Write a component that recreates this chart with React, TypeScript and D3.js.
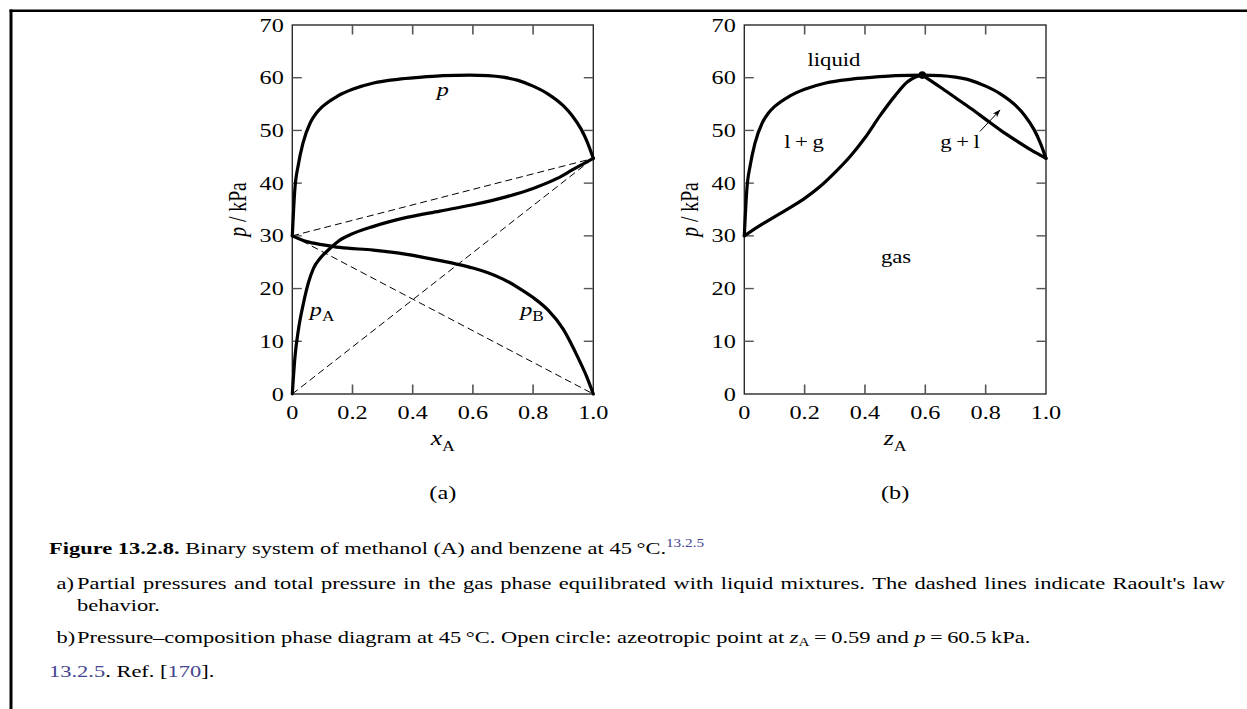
import React, { useMemo } from "react";
import * as d3 from "d3";

// ---------- data ----------
const xTickValues = [0, 0.2, 0.4, 0.6, 0.8, 1.0];
const xTickLabels = ["0", "0.2", "0.4", "0.6", "0.8", "1.0"];
const yTickValues = [0, 10, 20, 30, 40, 50, 60, 70];
const yTickLabels = ["0", "10", "20", "30", "40", "50", "60", "70"];

// total pressure p (also the liquid/bubble curve)
const totalX = [0, 0.008, 0.02, 0.035, 0.06, 0.08, 0.1, 0.15, 0.2, 0.27, 0.35, 0.43, 0.5, 0.59, 0.65, 0.7, 0.75, 0.8, 0.85, 0.9, 0.93, 0.96, 0.98, 1.0];
const totalP = [30, 38.5, 43.5, 47.5, 51.5, 53.3, 54.5, 56.5, 57.8, 59.0, 59.7, 60.1, 60.4, 60.5, 60.4, 60.1, 59.5, 58.4, 56.9, 54.7, 52.8, 50.2, 47.8, 44.7];

// partial pressure of A (methanol)
const partialAX = [0, 0.009, 0.02, 0.037, 0.053, 0.07, 0.092, 0.125, 0.158, 0.192, 0.27, 0.38, 0.49, 0.6, 0.71, 0.8, 0.88, 0.93, 1.0];
const partialAP = [0, 7.1, 12.1, 17.2, 21.0, 23.8, 25.7, 27.6, 29.2, 30.2, 31.8, 33.5, 34.7, 35.9, 37.4, 39.0, 40.9, 42.5, 44.7];

// partial pressure of B (benzene)
const partialBX = [0, 0.048, 0.103, 0.158, 0.269, 0.38, 0.5, 0.55, 0.6, 0.65, 0.7, 0.75, 0.8, 0.85, 0.9, 0.95, 0.978, 1.0];
const partialBP = [30, 28.9, 28.3, 27.8, 27.3, 26.5, 25.2, 24.6, 23.9, 23.0, 21.8, 20.2, 18.3, 15.9, 12.3, 6.8, 3.3, 0];

// Raoult's law lines
const raoultX = [0, 1];
const raoultTotalP = [30, 44.7];
const raoultAP = [0, 44.7];
const raoultBP = [30, 0];

// gas (dew) curve, two branches meeting at the azeotrope
const dewLeftX = [0, 0.05, 0.1, 0.15, 0.2, 0.25, 0.3, 0.35, 0.4, 0.45, 0.5, 0.54, 0.57, 0.59];
const dewLeftP = [30, 31.9, 33.6, 35.3, 37.1, 39.3, 42.0, 45.0, 48.6, 52.8, 56.6, 59.2, 60.2, 60.5];
const dewRightX = [0.59, 0.65, 0.7, 0.75, 0.8, 0.85, 0.9, 0.95, 1.0];
const dewRightP = [60.5, 58.2, 56.2, 54.2, 52.1, 50.0, 48.1, 46.3, 44.7];

const azeoX = 0.59;
const azeoP = 60.5;

// ---------- layout ----------
const W = 1247;
const H = 709;
const TOP = 25;
const BOTTOM = 394;
const PANEL_A = { x0: 292.3, x1: 593.3 };
const PANEL_B = { x0: 744.3, x1: 1046 };
const FONT = '"Liberation Serif", "Times New Roman", Times, serif';
const SX = 1.23; // horizontal stretch of the reference typography (chart)
const CSX = 1.27; // horizontal stretch of the caption
const TICK_SIZE = 19.7;
const LABEL_SIZE = 18.5;
const CAP_SIZE = 17.7;
const LINK = "#46468f";

const zip = (xs: number[], ys: number[]) => xs.map((x, i) => [x, ys[i]] as [number, number]);

function T({ x, y, size = TICK_SIZE, anchor = "middle", italic = false, sx = SX, children, fill = "#000", weight }: any) {
  return (
    <text
      transform={`translate(${x},${y}) scale(${sx},1)`}
      fontSize={size}
      textAnchor={anchor}
      fontStyle={italic ? "italic" : "normal"}
      fontWeight={weight}
      fontFamily={FONT}
      fill={fill}
    >
      {children}
    </text>
  );
}

function Frame({ xs, ys }: { xs: d3.ScaleLinear<number, number>; ys: d3.ScaleLinear<number, number> }) {
  const [x0, x1] = xs.range();
  const inner = xTickValues.filter((d) => d > 0 && d < 1);
  const innerY = yTickValues.filter((d) => d > 0 && d < 70);
  const tl = 9.5;
  return (
    <g>
      <rect x={x0} y={TOP} width={x1 - x0} height={BOTTOM - TOP} fill="none" stroke="#2a2a2a" strokeWidth={1.4} />
      {inner.map((d) => (
        <g key={"xt" + d} stroke="#555" strokeWidth={1.6}>
          <line x1={xs(d)} x2={xs(d)} y1={BOTTOM} y2={BOTTOM - tl} />
          <line x1={xs(d)} x2={xs(d)} y1={TOP} y2={TOP + tl} />
        </g>
      ))}
      {innerY.map((d) => (
        <g key={"yt" + d} stroke="#555" strokeWidth={1.4}>
          <line x1={x0} x2={x0 + tl} y1={ys(d)} y2={ys(d)} />
          <line x1={x1} x2={x1 - tl} y1={ys(d)} y2={ys(d)} />
        </g>
      ))}
      {xTickValues.map((d, i) => (
        <T key={"xl" + d} x={xs(d)} y={BOTTOM + 25}>
          {xTickLabels[i]}
        </T>
      ))}
      {yTickValues.map((d, i) => (
        <T key={"yl" + d} x={x0 - 8.5} y={ys(d) + 6.6} anchor="end">
          {yTickLabels[i]}
        </T>
      ))}
      <text
        transform={`translate(${x0 - 46},${(TOP + BOTTOM) / 2}) scale(${SX},1) rotate(-90)`}
        fontSize={TICK_SIZE}
        textAnchor="middle"
        fontFamily={FONT}
      >
        <tspan fontStyle="italic">p</tspan>
        <tspan> / kPa</tspan>
      </text>
    </g>
  );
}

let _ctx: CanvasRenderingContext2D | null = null;
function measure(text: string, font: string) {
  if (!_ctx) _ctx = document.createElement("canvas").getContext("2d");
  if (!_ctx) return text.length * 8;
  _ctx.font = font;
  return _ctx.measureText(text).width;
}

function JustifiedLine({ x, y, width, text }: { x: number; y: number; width: number; text: string }) {
  const words = text.split(" ");
  const font = `${CAP_SIZE}px "Liberation Serif"`;
  const widths = words.map((w) => measure(w, font));
  const total = widths.reduce((a, b) => a + b, 0);
  const natW = width / CSX;
  const gap = (natW - total) / (words.length - 1);
  let cx = 0;
  const pos = widths.map((w) => {
    const p = cx;
    cx += w + gap;
    return p;
  });
  return (
    <g transform={`translate(${x},${y}) scale(${CSX},1)`} fontFamily={FONT} fontSize={CAP_SIZE}>
      {words.map((w, i) => (
        <text key={i} x={pos[i]} y={0}>
          {w}
        </text>
      ))}
    </g>
  );
}

export default function App() {
  const ys = useMemo(() => d3.scaleLinear().domain([0, 70]).range([BOTTOM, TOP]), []);
  const xsA = useMemo(() => d3.scaleLinear().domain([0, 1]).range([PANEL_A.x0, PANEL_A.x1]), []);
  const xsB = useMemo(() => d3.scaleLinear().domain([0, 1]).range([PANEL_B.x0, PANEL_B.x1]), []);

  const lineA = d3.line<[number, number]>().x((d) => xsA(d[0])).y((d) => ys(d[1])).curve(d3.curveMonotoneX);
  const lineB = d3.line<[number, number]>().x((d) => xsB(d[0])).y((d) => ys(d[1])).curve(d3.curveMonotoneX);
  const straightA = d3.line<[number, number]>().x((d) => xsA(d[0])).y((d) => ys(d[1]));

  const thick = { fill: "none", stroke: "#000", strokeWidth: 3.2, strokeLinejoin: "round" as const, strokeLinecap: "round" as const };
  const dashed = { fill: "none", stroke: "#000", strokeWidth: 1, strokeDasharray: "7,4" };

  // arrow for "g + l" annotation (data coordinates of its ends)
  const arrowFrom = [0.781, 49.8];
  const arrowTo = [0.848, 53.9];

  return (
    <svg
      width={W}
      height={H}
      viewBox={`0 0 ${W} ${H}`}
      style={{ position: "absolute", left: 0, top: 0, background: "#fff", display: "block" }}
      fontFamily={FONT}
    >
      <defs>
        <marker id="arrowHead" viewBox="0 0 10 10" refX="9.5" refY="5" markerWidth="8" markerHeight="8" markerUnits="userSpaceOnUse" orient="auto">
          <path d="M0,1.5 L10,5 L0,8.5 L2.5,5 z" fill="#000" />
        </marker>
      </defs>
      {/* page frame */}
      <line x1={9.5} x2={W} y1={10.8} y2={10.8} stroke="#000" strokeWidth={2.6} />
      <line x1={11} x2={11} y1={9.5} y2={H} stroke="#000" strokeWidth={3} />

      {/* ---------- panel (a) ---------- */}
      <Frame xs={xsA} ys={ys} />
      <path d={straightA(zip(raoultX, raoultTotalP)) || ""} {...dashed} />
      <path d={straightA(zip(raoultX, raoultAP)) || ""} {...dashed} />
      <path d={straightA(zip(raoultX, raoultBP)) || ""} {...dashed} />
      <path d={lineA(zip(totalX, totalP)) || ""} {...thick} />
      <path d={lineA(zip(partialAX, partialAP)) || ""} {...thick} />
      <path d={lineA(zip(partialBX, partialBP)) || ""} {...thick} />
      <T x={xsA(0.5)} y={ys(56.5)} italic>p</T>
      <text transform={`translate(${xsA(0.058)},${ys(14.8)}) scale(${SX},1)`} fontFamily={FONT} fontSize={TICK_SIZE}>
        <tspan fontStyle="italic">p</tspan>
        <tspan fontSize={14} dy={5}>A</tspan>
      </text>
      <text transform={`translate(${xsA(0.757)},${ys(14.8)}) scale(${SX},1)`} fontFamily={FONT} fontSize={TICK_SIZE}>
        <tspan fontStyle="italic">p</tspan>
        <tspan fontSize={14} dy={5}>B</tspan>
      </text>
      <text transform={`translate(${xsA(0.5)},${BOTTOM + 51}) scale(${SX},1)`} fontFamily={FONT} fontSize={21} textAnchor="middle">
        <tspan fontStyle="italic">x</tspan>
        <tspan fontSize={14.5} dy={6}>A</tspan>
      </text>
      <T x={xsA(0.5)} y={499}>(a)</T>

      {/* ---------- panel (b) ---------- */}
      <Frame xs={xsB} ys={ys} />
      <path d={lineB(zip(totalX, totalP)) || ""} {...thick} />
      <path d={lineB(zip(dewLeftX, dewLeftP)) || ""} {...thick} />
      <path d={lineB(zip(dewRightX, dewRightP)) || ""} {...thick} />
      <circle cx={xsB(azeoX)} cy={ys(azeoP)} r={3.8} fill="#000" />
      <line
        x1={xsB(arrowFrom[0])}
        y1={ys(arrowFrom[1])}
        x2={xsB(arrowTo[0])}
        y2={ys(arrowTo[1])}
        stroke="#000"
        strokeWidth={1}
        markerEnd="url(#arrowHead)"
      />
      <T x={xsB(0.297)} y={ys(62.2)} size={LABEL_SIZE}>liquid</T>
      <T x={xsB(0.198)} y={ys(46.6)} size={LABEL_SIZE}>{"l\u2009+\u2009g"}</T>
      <T x={xsB(0.715)} y={ys(46.6)} size={LABEL_SIZE}>{"g\u2009+\u2009l"}</T>
      <T x={xsB(0.503)} y={ys(24.9)} size={LABEL_SIZE}>gas</T>
      <text transform={`translate(${xsB(0.5)},${BOTTOM + 51}) scale(${SX},1)`} fontFamily={FONT} fontSize={21} textAnchor="middle">
        <tspan fontStyle="italic">z</tspan>
        <tspan fontSize={14.5} dy={6}>A</tspan>
      </text>
      <T x={xsB(0.5)} y={499}>(b)</T>

      {/* ---------- caption ---------- */}
      <g fontFamily={FONT} fontSize={CAP_SIZE}>
        <text transform={`translate(49,554) scale(${CSX},1)`}>
          <tspan fontWeight="bold">Figure 13.2.8.</tspan>
          <tspan>{" Binary system of methanol (A) and benzene at 45\u2009°C."}</tspan>
          <tspan fill={LINK} fontSize={12} dy={-7}>13.2.5</tspan>
        </text>
        <T x={56.5} y={589} size={CAP_SIZE} sx={CSX} anchor="start">a)</T>
        <JustifiedLine
          x={77}
          y={589}
          width={1148}
          text="Partial pressures and total pressure in the gas phase equilibrated with liquid mixtures. The dashed lines indicate Raoult's law"
        />
        <T x={77} y={611} size={CAP_SIZE} sx={CSX} anchor="start">behavior.</T>
        <T x={56.5} y={643} size={CAP_SIZE} sx={CSX} anchor="start">b)</T>
        <text transform={`translate(77,643) scale(${CSX},1)`}>
          <tspan>{"Pressure\u2013composition phase diagram at 45\u2009°C. Open circle: azeotropic point at "}</tspan>
          <tspan fontStyle="italic">z</tspan>
          <tspan fontSize={12} dy={3}>A</tspan>
          <tspan dy={-3}>{"\u2009=\u20090.59 and "}</tspan>
          <tspan fontStyle="italic">p</tspan>
          <tspan>{"\u2009=\u200960.5\u2009kPa."}</tspan>
        </text>
        <text transform={`translate(49,677) scale(${CSX},1)`}>
          <tspan fill={LINK}>13.2.5</tspan>
          <tspan>{". Ref. ["}</tspan>
          <tspan fill={LINK}>170</tspan>
          <tspan>{"]."}</tspan>
        </text>
      </g>
    </svg>
  );
}
